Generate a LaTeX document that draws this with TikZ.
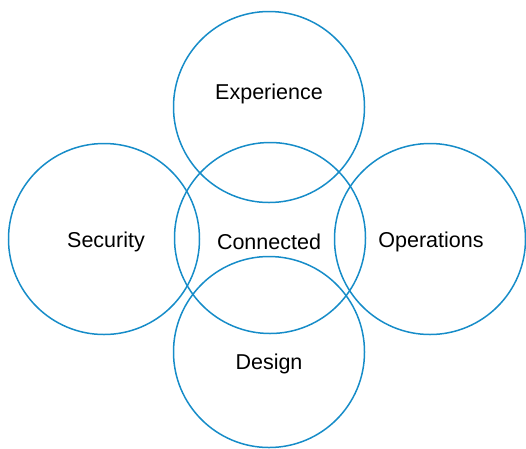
\documentclass[tikz,border=0pt]{standalone}
\usepackage{fontspec}
\setmainfont{Liberation Sans}
\definecolor{ringblue}{RGB}{22,140,200}
\begin{document}
\begin{tikzpicture}[x=1pt,y=-1pt,
  ring/.style={draw=ringblue,line width=1.5pt,circle,minimum size=191pt,inner sep=0pt},
  lbl/.style={font=\fontsize{21.5}{25}\selectfont,text=black}]
\useasboundingbox (0,0) rectangle (526,448);
\node[ring] (top) at (269,107) {};
\node[ring] (mid) at (270,238) {};
\node[ring] (left) at (104,239) {};
\node[ring] (right) at (430,239) {};
\node[ring] (bot) at (269,352) {};
\node[lbl] (texp) at (269,94) {Experience};
\node[lbl] (tcon) at (269,242) {Connected};
\node[lbl] (tsec) at (106,242) {Security};
\node[lbl] (tops) at (431,242) {Operations};
\node[lbl] (tdes) at (269,364) {Design};
\end{tikzpicture}
\end{document}
